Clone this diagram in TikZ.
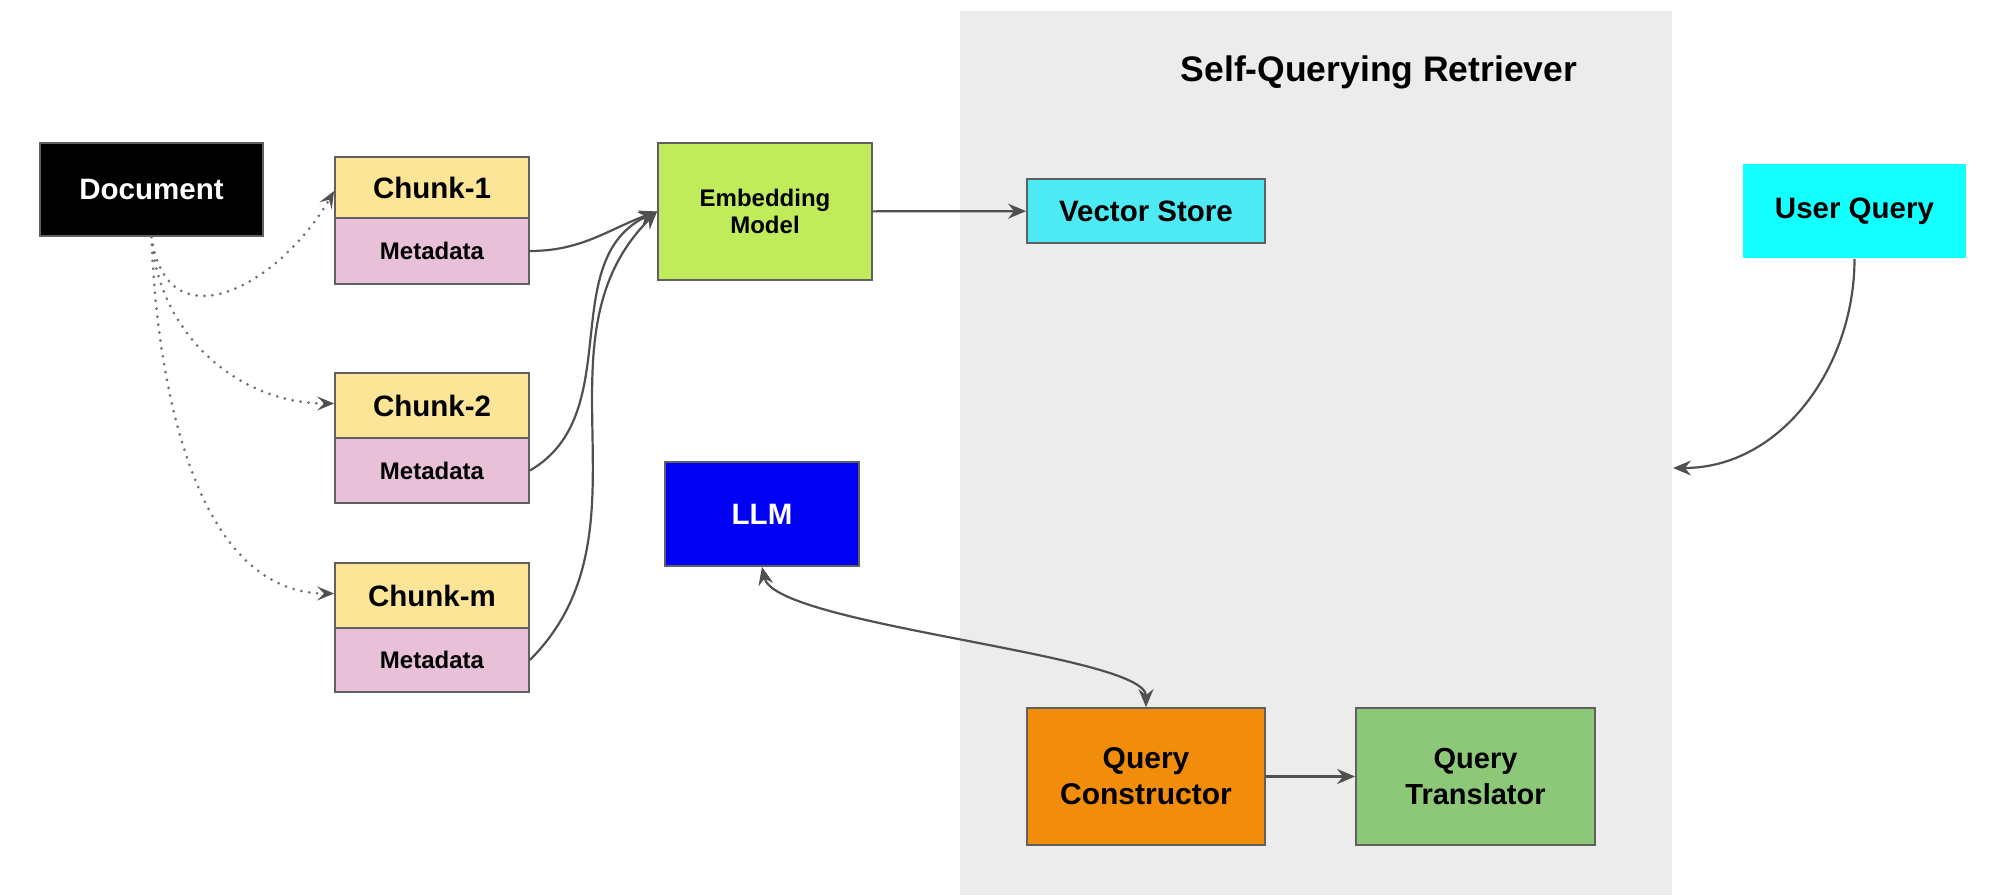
\documentclass[tikz,border=0pt]{standalone}
\usepackage{fontspec}
\setmainfont{Liberation Sans}
\usetikzlibrary{arrows.meta}
\definecolor{bordergray}{HTML}{606060}
\definecolor{arrowgray}{HTML}{505050}
\definecolor{dotgray}{HTML}{707070}
\definecolor{regiongray}{HTML}{ECECEC}
\definecolor{chunkyellow}{HTML}{FCE596}
\definecolor{metapink}{HTML}{E8C0D8}
\definecolor{embgreen}{HTML}{C0EB5A}
\definecolor{vscyan}{HTML}{4DEAF3}
\definecolor{uqcyan}{HTML}{14FFFF}
\definecolor{llmblue}{HTML}{0000F2}
\definecolor{qcorange}{HTML}{F28C0B}
\definecolor{qtgreen}{HTML}{8CC877}
\begin{document}
\begin{tikzpicture}[x=1pt,y=1pt,
  box/.style={draw=bordergray, line width=1.8pt, inner sep=0pt, align=center,
    font=\bfseries\fontsize{29.5}{36}\selectfont},
  smalltext/.style={font=\bfseries\fontsize{24}{27}\selectfont},
  conn/.style={draw=arrowgray, line width=2.2pt, -{Stealth[length=18pt,width=15pt,inset=6pt]}},
  dconn/.style={draw=arrowgray, line width=2.2pt, {Stealth[length=18pt,width=15pt,inset=6pt]}-{Stealth[length=18pt,width=15pt,inset=6pt]}},
  dotconn/.style={draw=dotgray, line width=3pt, line cap=round, dash pattern=on 0pt off 8pt,
    -{Stealth[length=17pt,width=14pt,inset=7pt,line cap=butt,color=arrowgray]}}
]
\useasboundingbox (0,0) rectangle (2000,895);

% region
\node[fill=regiongray, inner sep=0pt, minimum width=712pt, minimum height=884pt] (sqr) at (1316,442) {};
\node[font=\bfseries\fontsize{35.5}{40}\selectfont] (title) at (1379,823) {Self-Querying Retriever};

% nodes
\node[box, fill=black, text=white, minimum width=223pt, minimum height=93pt] (doc) at (151.5,705.5) {Document};

\node[box, fill=chunkyellow, minimum width=194pt, minimum height=61pt] (c1) at (432,707.5) {Chunk-1};
\node[box, smalltext, fill=metapink, minimum width=194pt, minimum height=66pt] (m1) at (432,644) {Metadata};
\node[box, fill=chunkyellow, minimum width=194pt, minimum height=65pt] (c2) at (432,489.5) {Chunk-2};
\node[box, smalltext, fill=metapink, minimum width=194pt, minimum height=65pt] (m2) at (432,424.5) {Metadata};
\node[box, fill=chunkyellow, minimum width=194pt, minimum height=65pt] (cm) at (432,299.5) {Chunk-m};
\node[box, smalltext, fill=metapink, minimum width=194pt, minimum height=64pt] (mm) at (432,235) {Metadata};

\node[box, smalltext, fill=embgreen, minimum width=214pt, minimum height=137pt] (emb) at (765,683.5) {Embedding\\Model};
\node[box, fill=vscyan, minimum width=238pt, minimum height=64pt] (vs) at (1146,684) {Vector Store};
\node[box, draw=none, fill=uqcyan, minimum width=223pt, minimum height=94pt] (uq) at (1854.5,684) {User Query};
\node[box, draw=bordergray, fill=llmblue, text=white, minimum width=194pt, minimum height=104pt] (llm) at (762,381) {LLM};
\node[box, fill=qcorange, font=\bfseries\fontsize{30}{36}\selectfont, minimum width=238pt, minimum height=137pt] (qc) at (1146,118.5) {Query\\Constructor};
\node[box, fill=qtgreen, font=\bfseries\fontsize{29}{36}\selectfont, minimum width=239pt, minimum height=137pt] (qt) at (1475.5,118.5) {Query\\Translator};

\coordinate (uqend) at (1673,427);

% dotted connectors
\draw[dotconn] (doc.south) to[out=-82, in=240, looseness=1.5] ([yshift=-3.5pt]c1.west);
\draw[dotconn] (doc.south) to[out=-86, in=180] ([yshift=2pt]c2.west);
\draw[dotconn] (doc.south) to[out=-88, in=180, looseness=0.9] ([yshift=2pt]cm.west);

% metadata to embedding
\draw[conn] (m1.east) to[out=0, in=200] (emb.west);
\draw[conn] (m2.east) to[out=30, in=205] (emb.west);
\draw[conn] (mm.east) to[out=45, in=225] (emb.west);

\draw[conn] (emb) -- (vs);
\draw[conn] (uq.south) to[out=-90, in=0] (uqend);
\draw[dconn] (llm.south) .. controls +(13,-59) and +(0,53) .. (qc.north);
\draw[conn] (qc) -- (qt);
\end{tikzpicture}
\end{document}
